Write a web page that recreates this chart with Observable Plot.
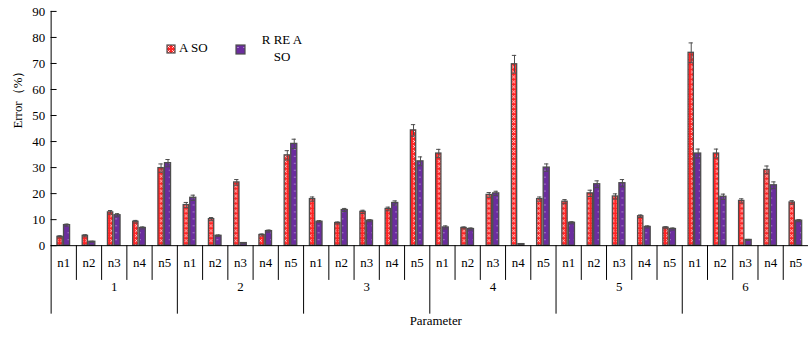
<!DOCTYPE html>
<html><head><meta charset="utf-8">
<script src="https://cdn.jsdelivr.net/npm/d3@7"></script>
<script src="https://cdn.jsdelivr.net/npm/@observablehq/plot@0.6"></script>
<style>
html,body{margin:0;padding:0;background:#fff;overflow:hidden;}
#wrap{position:relative;width:809px;height:338px;overflow:hidden;font-family:"Liberation Serif","Times New Roman",serif;}
.lg{position:absolute;font-size:13px;color:#000;line-height:16.6px;}
</style>
</head><body>
<div id="wrap"></div>
<script>
const groups = ["1", "2", "3", "4", "5", "6"];
const params = ["n1", "n2", "n3", "n4", "n5"];
const seriesNames = ["A SO", "R RE A\nSO"];
const valuesA = [3.4, 3.8, 12.8, 9.2, 29.8, 15.6, 10.2, 24.3, 4.1, 34.7, 17.9, 8.7, 13.0, 14.1, 44.3, 35.4, 6.8, 19.5, 69.7, 17.9, 16.9, 20.1, 18.9, 11.3, 6.9, 74.1, 35.4, 17.2, 29.1, 16.6];
const valuesR = [7.9, 1.5, 11.7, 6.8, 31.7, 18.4, 3.8, 1.0, 5.6, 39.1, 9.2, 13.7, 9.6, 16.4, 32.4, 7.0, 6.4, 20.1, 0.6, 30.0, 8.8, 23.6, 24.0, 7.2, 6.4, 35.4, 18.8, 2.2, 23.2, 9.6];
const errA = [0.4, 0.4, 0.7, 0.5, 1.6, 1.0, 0.6, 1.1, 0.4, 1.8, 0.8, 0.4, 0.6, 0.7, 2.2, 1.6, 0.4, 0.9, 3.4, 0.8, 0.8, 1.2, 1.0, 0.5, 0.4, 3.8, 1.7, 0.8, 1.5, 0.7];
const errR = [0.4, 0.2, 0.6, 0.4, 1.4, 1.0, 0.3, 0.2, 0.4, 1.8, 0.4, 0.6, 0.4, 0.8, 1.7, 0.6, 0.4, 0.8, 0.2, 1.4, 0.4, 1.3, 1.4, 0.4, 0.4, 1.7, 1.0, 0.2, 1.3, 0.4];
const yTicks = [0, 10, 20, 30, 40, 50, 60, 70, 80, 90];

const rows = [];
groups.forEach((g, gi) => params.forEach((p, pi) => {
  const i = gi * params.length + pi;
  rows.push({i, g, p, a: valuesA[i], r: valuesR[i], ea: errA[i], er: errR[i]});
}));
const groupRows = groups.map((g, gi) => ({g, i: gi * params.length}));
const n = rows.length;

const font = '"Liberation Serif", "Times New Roman", serif';
const edge = "#4d4d4d";
// Offsets within one parameter slot (fraction of slot)
const A0 = 0.25, A1 = 0.46, R0 = 0.51, R1 = 0.75;
const Ac = (A0 + A1) / 2, Rc = (R0 + R1) / 2, cap = 0.085;

const chart = Plot.plot({
  width: 815, height: 338,
  marginLeft: 51, marginRight: 1, marginTop: 11, marginBottom: 91,
  style: {fontFamily: font, fontSize: "13px", color: "#000", background: "transparent"},
  x: {type: "linear", domain: [0, n], axis: null},
  y: {domain: [0, 90], axis: null},
  marks: [
    Plot.axisY({ticks: yTicks, tickSize: 0, tickPadding: 6, label: null, fontSize: 13}),
    Plot.ruleY(yTicks, {y: d => d, x1: 0, x2: 0, insetRight: -6, stroke: "#000"}),
    // bars
    Plot.rectY(rows, {x1: d => d.i + A0, x2: d => d.i + A1, y1: 0, y2: "a", fill: "url(#patA)", stroke: edge, strokeWidth: 1.3}),
    Plot.rectY(rows, {x1: d => d.i + R0, x2: d => d.i + R1, y1: 0, y2: "r", fill: "url(#patR)", stroke: edge, strokeWidth: 1.3}),
    // error bars
    Plot.ruleX(rows, {x: d => d.i + Ac, y1: d => d.a - d.ea, y2: d => d.a + d.ea, stroke: edge}),
    Plot.ruleY(rows, {y: d => d.a + d.ea, x1: d => d.i + Ac - cap, x2: d => d.i + Ac + cap, stroke: edge}),
    Plot.ruleY(rows, {y: d => d.a - d.ea, x1: d => d.i + Ac - cap, x2: d => d.i + Ac + cap, stroke: edge}),
    Plot.ruleX(rows, {x: d => d.i + Rc, y1: d => d.r - d.er, y2: d => d.r + d.er, stroke: edge}),
    Plot.ruleY(rows, {y: d => d.r + d.er, x1: d => d.i + Rc - cap, x2: d => d.i + Rc + cap, stroke: edge}),
    Plot.ruleY(rows, {y: d => d.r - d.er, x1: d => d.i + Rc - cap, x2: d => d.i + Rc + cap, stroke: edge}),
    // x baseline
    Plot.ruleY([0], {stroke: "#000"}),
    // y axis line extended down to group separator length
    Plot.ruleX([0], {y1: 90, y2: 0, insetBottom: -69, stroke: "#000"}),
    // parameter separators
    Plot.ruleX(rows.filter(d => d.i % params.length !== 0), {x: "i", y1: 0, y2: 0, insetBottom: -35, stroke: "#000"}),
    // group separators
    Plot.ruleX(groupRows.slice(1), {x: "i", y1: 0, y2: 0, insetBottom: -69, stroke: "#000"}),
    // labels
    Plot.text(rows, {x: d => d.i + 0.5, y: 0, text: "p", dy: 17, fontSize: 13}),
    Plot.text(groupRows, {x: d => d.i + params.length / 2, y: 0, text: "g", dy: 42, fontSize: 13}),
    Plot.text(["Parameter"], {frameAnchor: "bottom", text: d => d, dy: 80, dx: 6, fontSize: 13}),
    Plot.text(["Error（%）"], {frameAnchor: "left", text: d => d, rotate: -90, dx: -34, fontSize: 13})
  ]
});

d3.select(chart).insert("defs", ":first-child").html(`
  <pattern id="patA" patternUnits="userSpaceOnUse" width="5" height="5">
    <rect width="5" height="5" fill="#ff2424"/>
    <rect x="1" y="1" width="1" height="1" fill="#ffc8c8"/>
    <rect x="3" y="1" width="1" height="1" fill="#ffc8c8"/>
    <rect x="2" y="2" width="1" height="1" fill="#ffffff"/>
    <rect x="1" y="3" width="1" height="1" fill="#ffc8c8"/>
    <rect x="3" y="3" width="1" height="1" fill="#ffc8c8"/>
  </pattern>
  <pattern id="patR" patternUnits="userSpaceOnUse" width="6" height="7">
    <rect width="6" height="7" fill="#6b2d9e"/>
    <circle cx="3" cy="3.5" r="0.6" fill="#e8dcf5"/>
  </pattern>`);

const wrap = document.getElementById("wrap");
wrap.appendChild(chart);

// Legend
function swatch(id, left, top, size) {
  const s = document.createElementNS("http://www.w3.org/2000/svg", "svg");
  s.setAttribute("width", size + 2); s.setAttribute("height", size + 2);
  s.style.position = "absolute"; s.style.left = left + "px"; s.style.top = top + "px";
  s.innerHTML = `<rect x="1" y="1" width="${size}" height="${size}" fill="url(#${id})" stroke="${edge}" stroke-width="1.2"/>`;
  wrap.appendChild(s);
}
swatch("patA", 166, 44, 8);
swatch("patR", 235, 44, 9);
const l1 = document.createElement("div");
l1.className = "lg"; l1.style.left = "179px"; l1.style.top = "40px";
l1.textContent = seriesNames[0];
wrap.appendChild(l1);
const l2 = document.createElement("div");
l2.className = "lg"; l2.style.left = "252px"; l2.style.top = "32px"; l2.style.width = "60px";
l2.style.textAlign = "center"; l2.style.whiteSpace = "pre";
l2.textContent = seriesNames[1];
wrap.appendChild(l2);
</script>
</body></html>
